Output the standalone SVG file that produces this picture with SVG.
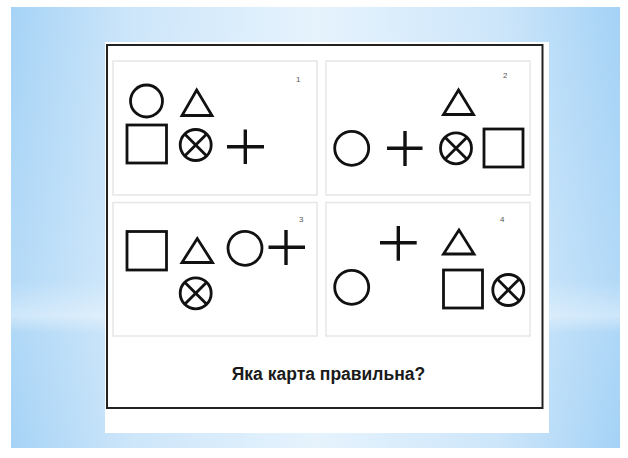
<svg xmlns="http://www.w3.org/2000/svg" width="628" height="458" viewBox="0 0 628 458">
<defs>
<linearGradient id="bgH" x1="0" y1="0" x2="1" y2="0">
<stop offset="0" stop-color="#a6d3f6"/>
<stop offset="0.2" stop-color="#cde6fa"/>
<stop offset="0.5" stop-color="#e6f3fd"/>
<stop offset="0.8" stop-color="#cde6fa"/>
<stop offset="1" stop-color="#a4d2f6"/>
</linearGradient>
<linearGradient id="bgV" x1="0" y1="0" x2="0" y2="1">
<stop offset="0" stop-color="#ffffff" stop-opacity="0"/>
<stop offset="0.62" stop-color="#ffffff" stop-opacity="0.15"/>
<stop offset="0.7" stop-color="#ffffff" stop-opacity="0.45"/>
<stop offset="0.74" stop-color="#ffffff" stop-opacity="0.1"/>
<stop offset="1" stop-color="#ffffff" stop-opacity="0"/>
</linearGradient>
<g id="otimes">
<circle r="15.5"/>
<line x1="-11" y1="-11" x2="11" y2="11"/>
<line x1="-11" y1="11" x2="11" y2="-11"/>
</g>
</defs>
<style>
.shape{fill:none;stroke:#111;stroke-width:2.8}
.plus{stroke:#111;stroke-width:3.4}
.panel{fill:#fff;stroke:#e6e6e6;stroke-width:1.5}
.num{font-family:"Liberation Sans",Arial,sans-serif;font-size:8px;fill:#555}
.q{font-family:"Liberation Sans",Arial,sans-serif;font-size:17.5px;fill:#1a1a1a;font-weight:bold}
</style>
<rect x="0" y="0" width="628" height="458" fill="#ffffff"/>
<rect x="11" y="7" width="609" height="441" fill="url(#bgH)"/>
<rect x="11" y="7" width="609" height="441" fill="url(#bgV)"/>
<rect x="105" y="42" width="444" height="391" fill="#ffffff"/>
<rect x="107" y="45" width="435.5" height="363" fill="none" stroke="#222" stroke-width="2"/>

<g id="panel1">
<rect class="panel" x="113" y="61" width="204" height="134"/>
<text class="num" x="296" y="82">1</text>
<circle class="shape" cx="146.5" cy="101" r="16"/>
<polygon class="shape" points="196.7,90 182,115.5 212,115.5"/>
<rect class="shape" x="127" y="125" width="39.5" height="38"/>
<use href="#otimes" class="shape" x="195.7" y="145"/>
<line class="plus" x1="227" y1="146.7" x2="264" y2="146.7"/>
<line class="plus" x1="245.3" y1="129.5" x2="245.3" y2="164"/>
</g>

<g id="panel2">
<rect class="panel" x="326" y="61" width="204" height="134"/>
<text class="num" x="503" y="78">2</text>
<polygon class="shape" points="458.5,90 443.5,114.5 473.5,114.5"/>
<circle class="shape" cx="351.7" cy="148.3" r="17"/>
<line class="plus" x1="387" y1="148.3" x2="422.5" y2="148.3"/>
<line class="plus" x1="405" y1="131" x2="405" y2="166"/>
<use href="#otimes" class="shape" x="456" y="148.3"/>
<rect class="shape" x="484" y="129" width="39" height="38"/>
</g>

<g id="panel3">
<rect class="panel" x="113" y="202.5" width="204" height="133.5"/>
<text class="num" x="299" y="222">3</text>
<rect class="shape" x="127" y="231.5" width="39.5" height="38.5"/>
<polygon class="shape" points="197.3,238.5 182,262.5 212.5,262.5"/>
<circle class="shape" cx="245" cy="248.3" r="17"/>
<line class="plus" x1="268.5" y1="247.3" x2="305" y2="247.3"/>
<line class="plus" x1="286" y1="230" x2="286" y2="265"/>
<use href="#otimes" class="shape" x="195.7" y="293.3"/>
</g>

<g id="panel4">
<rect class="panel" x="326" y="202.5" width="204" height="133.5"/>
<text class="num" x="500" y="222">4</text>
<line class="plus" x1="380" y1="242.7" x2="416.7" y2="242.7"/>
<line class="plus" x1="398.3" y1="226" x2="398.3" y2="260.7"/>
<polygon class="shape" points="459,230 443.5,254 474,254"/>
<circle class="shape" cx="351.7" cy="287.3" r="17"/>
<rect class="shape" x="443.5" y="270" width="39" height="38"/>
<use href="#otimes" class="shape" x="508.3" y="290"/>
</g>

<g id="question">
<text class="q" x="328.5" y="379.5" text-anchor="middle">Яка карта правильна?</text>
</g>
</svg>
